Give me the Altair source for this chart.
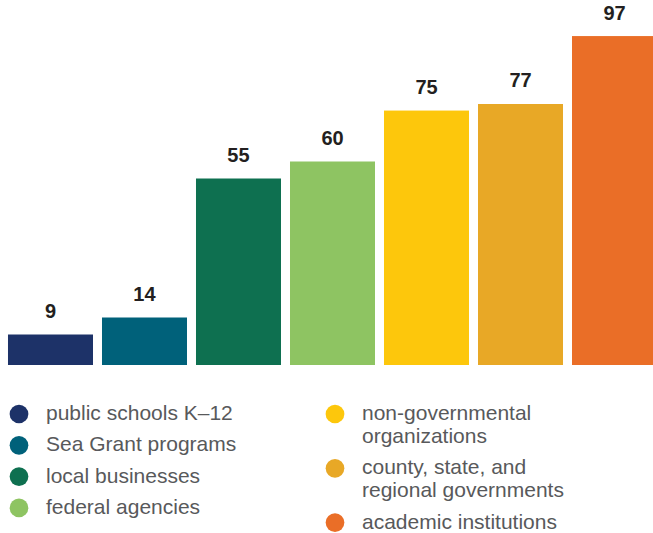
import altair as alt
import pandas as pd

categories = [
    "public schools K–12",
    "Sea Grant programs",
    "local businesses",
    "federal agencies",
    "non-governmental organizations",
    "county, state, and regional governments",
    "academic institutions",
]
values = [9, 14, 55, 60, 75, 77, 97]
colors = ["#1d3268", "#00617a", "#0e7050", "#8ec462", "#fdc70c", "#e8a826", "#ea6e27"]

left_legend = categories[:4]
right_legend = categories[4:]
right_colors = colors[4:]

df = pd.DataFrame({"category": categories, "value": values})

FONT = "Liberation Sans"

x = alt.X(
    "category:N",
    sort=categories,
    scale=alt.Scale(domain=categories, range=[0, 665], paddingInner=0.0957, paddingOuter=0.085),
    axis=None,
)
y = alt.Y("value:Q", scale=alt.Scale(domain=[0, 107.67], nice=False), axis=None)

label_expr = (
    "datum.label == 'non-governmental organizations' ? ['non-governmental', 'organizations'] : "
    "datum.label == 'county, state, and regional governments' ? ['county, state, and', 'regional governments'] : "
    "datum.label"
)

legend_common = dict(
    orient="none",
    title=None,
    symbolType="circle",
    symbolSize=350,
    symbolStrokeWidth=0,
    labelFont=FONT,
    labelFontSize=21,
    labelColor="#58595b",
    labelOffset=16.5,
    labelLimit=400,
    padding=0,
    rowPadding=9.3,
)

under = (
    alt.Chart(df)
    .transform_filter(alt.FieldOneOfPredicate(field="category", oneOf=right_legend))
    .mark_bar(clip=True)
    .encode(
        x=x,
        y=y,
        fill=alt.Fill(
            "category:N",
            scale=alt.Scale(domain=right_legend, range=right_colors),
            legend=alt.Legend(legendX=324.5, legendY=403.5, labelExpr=label_expr, **legend_common),
        ),
    )
)

bars = (
    alt.Chart(df)
    .mark_bar(clip=True)
    .encode(
        x=x,
        y=y,
        color=alt.Color(
            "category:N",
            scale=alt.Scale(domain=categories, range=colors),
            legend=alt.Legend(values=left_legend, legendX=8.5, legendY=403.5, **legend_common),
        ),
    )
)

labels = (
    alt.Chart(df)
    .mark_text(dy=-16.5, baseline="alphabetic", font=FONT, fontWeight="bold", fontSize=20, color="#231f20")
    .encode(x=x, y=y, text="value:Q")
)

chart = (
    alt.layer(under, bars, labels)
    .resolve_scale(fill="independent", color="independent")
    .properties(width=653, height=365, padding={"left": 0, "top": 0, "right": 0, "bottom": 0})
    .configure_view(stroke=None)
)

chart.save("out.html", embed_options={"renderer": "svg", "actions": False})
